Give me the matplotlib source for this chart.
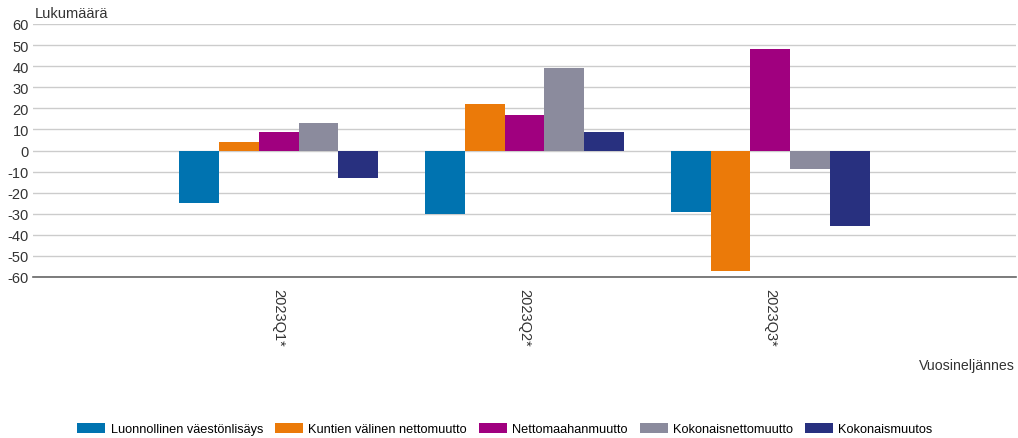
import matplotlib
matplotlib.use("Agg")
import matplotlib.pyplot as plt
import numpy as np

plt.rcParams['font.family'] = ['Liberation Sans', 'DejaVu Sans']

categories = ["2023Q1*", "2023Q2*", "2023Q3*"]
series_names = ["Luonnollinen väestönlisäys", "Kuntien välinen nettomuutto",
                "Nettomaahanmuutto", "Kokonaisnettomuutto", "Kokonaismuutos"]
luonnollinen = [-25, -30, -29]
kuntien = [4, 22, -57]
nettomaahan = [9, 17, 48]
kokonaisnetto = [13, 39, -9]
kokonaismuutos = [-13, 9, -36]
values = [luonnollinen, kuntien, nettomaahan, kokonaisnetto, kokonaismuutos]
colors = ["#0073B0", "#EB7A09", "#A0007F", "#8B8B9D", "#28307F"]
yticks = list(range(-60, 61, 10))

fig = plt.figure(figsize=(10.18, 4.39), dpi=100)
ax = fig.add_axes([33/1018, (439-278)/439, 983/1018, 253/439])

x = np.arange(1, len(categories) + 1)
bw = 0.162
for i, (vals, col, name) in enumerate(zip(values, colors, series_names)):
    ax.bar(x + (i - 2) * bw, vals, width=bw, color=col, label=name, zorder=3)

ax.set_xlim(0, 4)
ax.set_ylim(-60, 60)
ax.set_yticks(yticks)
ax.set_yticklabels([str(t) for t in yticks], fontsize=10.5, color="#333333")
ax.yaxis.grid(True, color="#cccccc", linewidth=1.0, zorder=0)
ax.tick_params(axis='y', length=0, pad=3)
ax.set_xticks(x)
ax.set_xticklabels(categories, rotation=270, fontsize=10.5, color="#333333")
ax.tick_params(axis='x', length=0, pad=8)
for s in ["top", "right", "left"]:
    ax.spines[s].set_visible(False)
ax.spines["bottom"].set_color("#666666")
ax.spines["bottom"].set_linewidth(1.2)

fig.text(35/1018, 1 - 14/439, "Lukumäärä", fontsize=10.5, color="#333333", va="center", ha="left")
fig.text(1015/1018, 1 - 366/439, "Vuosineljännes", fontsize=10.2, color="#333333", va="center", ha="right")

leg = fig.legend(loc="center", bbox_to_anchor=(505/1018, 1 - 430/439), ncol=5, frameon=False,
                 fontsize=9.2, handlelength=2.2, handleheight=0.9, columnspacing=0.95,
                 handletextpad=0.4)

fig.savefig("out.png", dpi=100)
